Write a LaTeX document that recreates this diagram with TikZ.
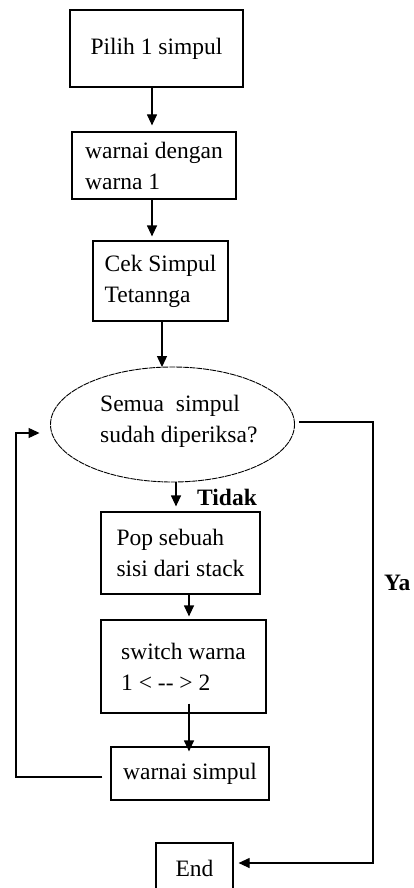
\documentclass[tikz,border=0pt]{standalone}
\usepackage{fontspec}
\setmainfont{Liberation Serif}
\usetikzlibrary{arrows.meta,shapes.geometric}
\begin{document}
\begin{tikzpicture}[x=1pt,y=1pt,
  txt/.style={font=\fontsize{23.5}{31}\selectfont, inner sep=0pt, align=left},
  box/.style={txt, draw=black, line width=1.2pt, rectangle},
  lbl/.style={font=\fontsize{23.5}{31}\selectfont\bfseries, inner sep=0pt},
  link/.style={line width=1.2pt},
  arr/.style={link, -{Triangle[length=11pt,width=10pt]}}]
% page frame
\clip (0,0) rectangle (414,-888);
\fill[white] (0,0) rectangle (414,-888);

% process boxes
\node[box, minimum width=173pt, minimum height=77pt] (pilih)  at (156.5,-48.5) {Pilih 1 simpul};
\node[box, minimum width=164pt, minimum height=67pt] (warna1) at (154,-165.5)  {warnai dengan\\warna 1};
\node[box, minimum width=135pt, minimum height=80pt] (cek)    at (160.5,-281)  {Cek Simpul\\Tetannga};

% decision
\node[draw=black, ellipse, minimum width=244pt, minimum height=115pt, inner sep=0pt,
      line width=0.9pt, dash pattern=on 6pt off 0.8pt] (dec) at (172.5,-424.5) {};
\node[txt, anchor=west] (dectext) at (100,-421) {Semua\ \ simpul\\sudah diperiksa?};

\node[box, minimum width=159pt, minimum height=82pt] (pop)    at (180.5,-553)  {Pop sebuah\\sisi dari stack};
\node[box, minimum width=165pt, minimum height=93pt] (switch) at (183.5,-666.5){switch warna\\1 < -{}- > 2};
\node[box, minimum width=158pt, minimum height=53pt] (ws)     at (190,-773.5)  {warnai simpul};
\node[box, minimum width=77pt,  minimum height=50pt] (endbox) at (194.5,-868)  {End};

% branch labels
\node[lbl, anchor=west] (tidak) at (197,-497) {Tidak};
\node[lbl, anchor=west] (ya)    at (384,-583) {Ya};

% column / corner coordinates of the connectors
\coordinate (c1) at (152,0);
\coordinate (c2) at (162,0);
\coordinate (c3) at (176,0);
\coordinate (c4) at (189,0);
\coordinate (yaturn) at (373,-863);
\coordinate (lb) at (16,-777);
\coordinate (lt) at (16,-433);

% main flow
\draw[arr, shorten >=6pt] (pilih.south -| c1) -- (warna1.north -| c1);
\draw[arr, shorten >=4pt] (warna1.south -| c1) -- (cek.north -| c1);
\draw[arr] (cek.south -| c2) -- ([yshift=-0.5pt]dec.north -| c2);
\draw[arr, shorten >=5pt] (dec.south -| c3) -- (pop.north -| c3);
\draw[arr, shorten >=3pt] (pop.south -| c4) -- (switch.north -| c4);
\draw[arr, shorten >=-5pt] ([yshift=10pt]switch.south -| c4) -- (ws.north -| c4);

% "Ya" branch to End
\draw[arr, shorten <=4.5pt, shorten >=5pt] ([yshift=2.5pt]dec.east) -| (yaturn) -- (yaturn -| endbox.east);

% loop back to the decision
\draw[arr, shorten <=8pt, shorten >=10.5pt] (ws.west |- lb) -- (lb) -- (lt) -- (lt -| dec.west);
\end{tikzpicture}
\end{document}
